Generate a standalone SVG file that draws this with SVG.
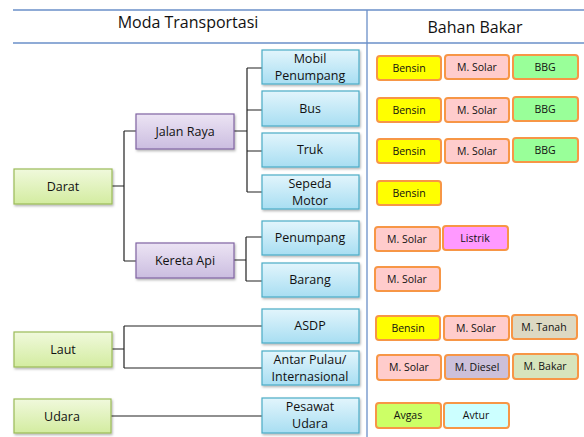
<svg xmlns="http://www.w3.org/2000/svg" width="584" height="437" viewBox="0 0 584 437">
<defs>
<linearGradient id="gGreen" x1="0" y1="0" x2="0" y2="1"><stop offset="0" stop-color="#f0f9dc"/><stop offset="1" stop-color="#d3eca0"/></linearGradient>
<linearGradient id="gPurple" x1="0" y1="0" x2="0" y2="1"><stop offset="0" stop-color="#ece4f4"/><stop offset="1" stop-color="#cbbde0"/></linearGradient>
<linearGradient id="gBlue" x1="0" y1="0" x2="0" y2="1"><stop offset="0" stop-color="#e2f5fc"/><stop offset="1" stop-color="#a8def2"/></linearGradient>
<filter id="sh" x="-10%" y="-10%" width="130%" height="140%"><feDropShadow dx="1" dy="1.5" stdDeviation="0.8" flood-color="#000" flood-opacity="0.3"/></filter>
</defs>
<style>
text{font-family:"Open Sans","Noto Sans","DejaVu Sans",sans-serif;fill:#111;text-anchor:middle}
.hd{font-size:16px}
.nt{font-size:12.5px}
.pt{font-size:10.5px}
.green{fill:url(#gGreen);stroke:#9bbb59;stroke-width:1.2;filter:url(#sh)}
.purple{fill:url(#gPurple);stroke:#8064a2;stroke-width:1.2;filter:url(#sh)}
.blue{fill:url(#gBlue);stroke:#4bacc6;stroke-width:1.2;filter:url(#sh)}
.pill{stroke:#f79646;stroke-width:2}
.conn{fill:none;stroke:#222;stroke-width:1.2}
.grid{stroke:#6a8fc8;stroke-width:1.3;fill:none}
</style>
<rect width="584" height="437" fill="#fff"/>
<g id="header">
<line class="grid" x1="13" y1="10" x2="584" y2="10"/>
<line class="grid" x1="13" y1="43" x2="584" y2="43"/>
<line class="grid" x1="367" y1="10" x2="367" y2="437"/>
<text class="hd" x="188" y="28">Moda Transportasi</text>
<text class="hd" x="475" y="33">Bahan Bakar</text>
</g>
<g id="connectors">
<path class="conn" d="M112 186H124M124 131V261M124 131H136M124 261H136"/>
<path class="conn" d="M234 131H247M247 68V192M247 68H262M247 110H262M247 151H262M247 192H262"/>
<path class="conn" d="M234 260H246M246 237V281M246 237H262M246 281H262"/>
<path class="conn" d="M112 349H124M124 326V368M124 326H262M124 368H262"/>
<path class="conn" d="M111 416H262"/>
</g>
<g id="darat"><rect class="green" x="14" y="169" width="98" height="35"/><text class="nt" x="63" y="191">Darat</text></g>
<g id="laut"><rect class="green" x="14" y="332" width="98" height="35"/><text class="nt" x="63" y="354">Laut</text></g>
<g id="udara"><rect class="green" x="14" y="399" width="97" height="34"/><text class="nt" x="62" y="421">Udara</text></g>
<g id="jalan-raya"><rect class="purple" x="136" y="114" width="98" height="35"/><text class="nt" x="185" y="136">Jalan Raya</text></g>
<g id="kereta-api"><rect class="purple" x="136" y="243" width="98" height="35"/><text class="nt" x="185" y="265">Kereta Api</text></g>
<g id="mobil"><rect class="blue" x="262" y="50" width="97" height="34"/><text class="nt" x="310" y="63">Mobil</text><text class="nt" x="310" y="80">Penumpang</text></g>
<g id="bus"><rect class="blue" x="262" y="91" width="97" height="35"/><text class="nt" x="310" y="113">Bus</text></g>
<g id="truk"><rect class="blue" x="262" y="133" width="97" height="34"/><text class="nt" x="310" y="154">Truk</text></g>
<g id="sepeda-motor"><rect class="blue" x="262" y="175" width="97" height="34"/><text class="nt" x="310" y="188">Sepeda</text><text class="nt" x="310" y="205">Motor</text></g>
<g id="penumpang"><rect class="blue" x="262" y="221" width="97" height="34"/><text class="nt" x="310" y="242">Penumpang</text></g>
<g id="barang"><rect class="blue" x="262" y="263" width="97" height="34"/><text class="nt" x="310" y="284">Barang</text></g>
<g id="asdp"><rect class="blue" x="262" y="309" width="97" height="34"/><text class="nt" x="310" y="330">ASDP</text></g>
<g id="antar-pulau"><rect class="blue" x="262" y="351" width="97" height="34"/><text class="nt" x="310" y="364">Antar Pulau/</text><text class="nt" x="310" y="381">Internasional</text></g>
<g id="pesawat"><rect class="blue" x="262" y="398" width="97" height="35"/><text class="nt" x="310" y="411">Pesawat</text><text class="nt" x="310" y="428">Udara</text></g>
<g id="fuel-mobil">
<rect class="pill" x="377" y="56" width="64" height="24" rx="3" fill="#ffff00"/><text class="pt" x="409" y="72">Bensin</text>
<rect class="pill" x="445" y="55" width="64" height="24" rx="3" fill="#ffcccc"/><text class="pt" x="477" y="71">M. Solar</text>
<rect class="pill" x="513" y="55" width="65" height="24" rx="3" fill="#99ff99"/><text class="pt" x="545" y="71">BBG</text>
</g>
<g id="fuel-bus">
<rect class="pill" x="377" y="98" width="64" height="24" rx="3" fill="#ffff00"/><text class="pt" x="409" y="114">Bensin</text>
<rect class="pill" x="445" y="98" width="64" height="24" rx="3" fill="#ffcccc"/><text class="pt" x="477" y="114">M. Solar</text>
<rect class="pill" x="513" y="97" width="65" height="24" rx="3" fill="#99ff99"/><text class="pt" x="545" y="113">BBG</text>
</g>
<g id="fuel-truk">
<rect class="pill" x="377" y="139" width="64" height="24" rx="3" fill="#ffff00"/><text class="pt" x="409" y="155">Bensin</text>
<rect class="pill" x="445" y="139" width="64" height="24" rx="3" fill="#ffcccc"/><text class="pt" x="477" y="155">M. Solar</text>
<rect class="pill" x="513" y="138" width="65" height="24" rx="3" fill="#99ff99"/><text class="pt" x="545" y="154">BBG</text>
</g>
<g id="fuel-motor">
<rect class="pill" x="377" y="181" width="64" height="24" rx="3" fill="#ffff00"/><text class="pt" x="409" y="197">Bensin</text>
</g>
<g id="fuel-penumpang">
<rect class="pill" x="375" y="227" width="65" height="24" rx="3" fill="#ffcccc"/><text class="pt" x="407" y="243">M. Solar</text>
<rect class="pill" x="443" y="226" width="65" height="24" rx="3" fill="#ff99ff"/><text class="pt" x="475" y="242">Listrik</text>
</g>
<g id="fuel-barang">
<rect class="pill" x="375" y="267" width="65" height="24" rx="3" fill="#ffcccc"/><text class="pt" x="407" y="283">M. Solar</text>
</g>
<g id="fuel-asdp">
<rect class="pill" x="376" y="316" width="64" height="24" rx="3" fill="#ffff00"/><text class="pt" x="408" y="332">Bensin</text>
<rect class="pill" x="444" y="316" width="65" height="24" rx="3" fill="#ffcccc"/><text class="pt" x="476" y="332">M. Solar</text>
<rect class="pill" x="512" y="315" width="65" height="24" rx="3" fill="#ddd9c3"/><text class="pt" x="544" y="331">M. Tanah</text>
</g>
<g id="fuel-antar">
<rect class="pill" x="377" y="355" width="64" height="25" rx="3" fill="#ffcccc"/><text class="pt" x="409" y="371">M. Solar</text>
<rect class="pill" x="445" y="355" width="64" height="24" rx="3" fill="#ccc0da"/><text class="pt" x="477" y="371">M. Diesel</text>
<rect class="pill" x="513" y="354" width="65" height="25" rx="3" fill="#d7e4bc"/><text class="pt" x="545" y="370">M. Bakar</text>
</g>
<g id="fuel-pesawat">
<rect class="pill" x="376" y="403" width="65" height="25" rx="3" fill="#ccff66"/><text class="pt" x="408" y="419">Avgas</text>
<rect class="pill" x="444" y="403" width="65" height="25" rx="3" fill="#ccffff"/><text class="pt" x="476" y="419">Avtur</text>
</g>
</svg>
